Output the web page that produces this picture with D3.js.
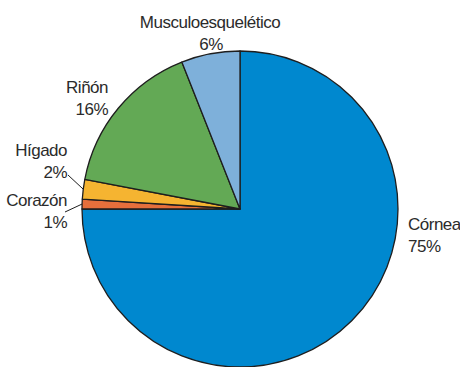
<!DOCTYPE html>
<html>
<head>
<meta charset="utf-8">
<script src="https://cdn.jsdelivr.net/npm/d3@7"></script>
<style>
  body { margin: 0; background: #fff; }
  text { font-family: "Liberation Sans", Arial, sans-serif; font-size: 17px; letter-spacing: -0.5px; fill: #2b2b2b; }
</style>
</head>
<body>
<div id="chart"></div>
<script>
// Daten
const categories = ["Córnea", "Corazón", "Hígado", "Riñón", "Musculoesquelético"];
const values = [75, 1, 2, 16, 6];
const colors = ["#0088cf", "#e56f3c", "#f5b431", "#63a955", "#7eb0da"];

const width = 460, height = 367;
const cx = 240, cy = 209, radius = 158;

// Beschriftungen: Position relativ zum Mittelpunkt, Ausrichtung, Leader-Linie
const labelLayout = [
  { dx: 168, dy: 21, anchor: "start", leader: null },
  { dx: -173, dy: -3, anchor: "end", leader: [-175, 3] },
  { dx: -173, dy: -53, anchor: "end", leader: [-172, -34] },
  { dx: -132, dy: -116, anchor: "end", leader: null },
  { dx: -30, dy: -181, anchor: "middle", leader: null }
];

const svg = d3.select("#chart")
  .append("svg")
  .attr("width", width)
  .attr("height", height)
  .append("g")
  .attr("transform", `translate(${cx},${cy})`);

const pie = d3.pie().sort(null).value(d => d);
const arcs = pie(values);
const arc = d3.arc().innerRadius(0).outerRadius(radius);

svg.selectAll(".slice")
  .data(arcs)
  .join("path")
  .attr("class", "slice")
  .attr("d", arc)
  .attr("fill", (d, i) => colors[i])
  .attr("stroke", "#1e1e1e")
  .attr("stroke-width", 1.3)
  .attr("stroke-linejoin", "round");

// Leader-Linien
arcs.forEach((d, i) => {
  const l = labelLayout[i];
  if (!l.leader) return;
  const a = (d.startAngle + d.endAngle) / 2;
  svg.append("line")
    .attr("x1", l.leader[0])
    .attr("y1", l.leader[1])
    .attr("x2", Math.sin(a) * radius)
    .attr("y2", -Math.cos(a) * radius)
    .attr("stroke", "#1e1e1e")
    .attr("stroke-width", 1);
});

// Texte
arcs.forEach((d, i) => {
  const l = labelLayout[i];
  const t = svg.append("text")
    .attr("text-anchor", l.anchor)
    .attr("x", l.dx)
    .attr("y", l.dy);
  t.append("tspan").attr("x", l.dx).text(categories[i]);
  t.append("tspan").attr("x", l.dx + (i === 4 ? 1 : 0)).attr("dy", 22).text(values[i] + "%");
});
</script>
</body>
</html>
